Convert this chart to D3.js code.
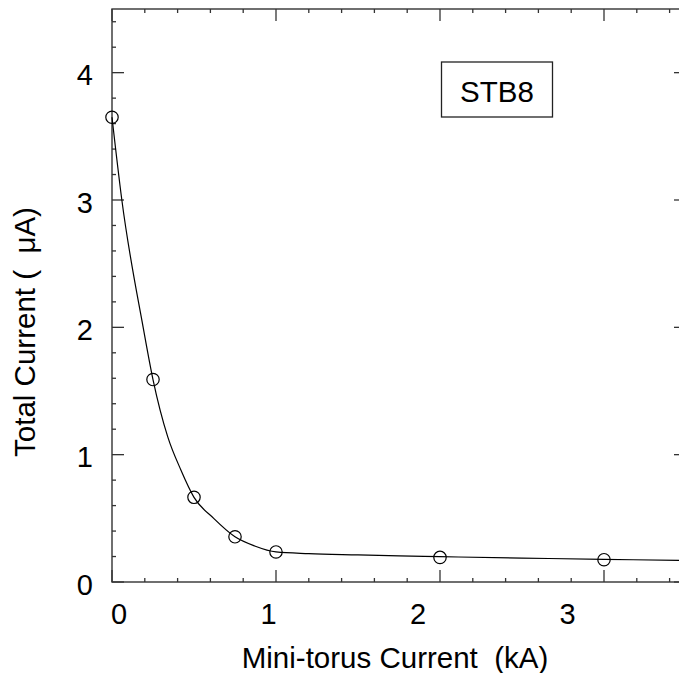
<!DOCTYPE html>
<html>
<head>
<meta charset="utf-8">
<script src="https://cdn.jsdelivr.net/npm/d3@7"></script>
<style>
  html, body { margin: 0; padding: 0; background: #fff; }
  svg { display: block; }
  text { font-family: "Liberation Sans", Arial, Helvetica, sans-serif; fill: #000; white-space: pre; }
</style>
</head>
<body>
<script>
// ---- data ----
const currentKA   = [0, 0.25, 0.5, 0.75, 1.0, 2.0, 3.0];
const totalUA     = [3.65, 1.59, 0.665, 0.355, 0.236, 0.193, 0.175];
// fitted curve
const fitX = [0, 0.06, 0.19, 0.25, 0.34, 0.42, 0.5, 0.62, 0.75, 0.87, 1.0, 1.2, 1.5, 1.75, 2.0, 2.5, 3.0, 3.5];
const fitY = [3.65, 3.0, 2.0, 1.59, 1.14, 0.88, 0.665, 0.50, 0.355, 0.283, 0.236, 0.223, 0.213, 0.205, 0.199, 0.188, 0.178, 0.169];
const xTickLabels = ["0", "1", "2", "3"];
const yTickLabels = ["0", "1", "2", "3", "4"];
const legendLabel = "STB8";
const xTitle = "Mini-torus Current  (kA)";
const yTitle = "Total Current (  \u03BCA)";

const W = 679, H = 673;
const svg = d3.select("body").append("svg").attr("width", W).attr("height", H);

const x = d3.scaleLinear().domain([0, 3.5]).range([112, 686]);
const y = d3.scaleLinear().domain([0, 4.5]).range([582, 9]);
// tick labels in the original are spaced slightly differently from the ticks
const xLab = d3.scaleLinear().domain([0, 3]).range([119, 567.5]);

const axisColor = "#333";
const g = svg.append("g");

// frame
g.append("rect")
  .attr("x", x(0)).attr("y", y(4.5))
  .attr("width", x(3.5) - x(0)).attr("height", y(0) - y(4.5))
  .attr("fill", "none").attr("stroke", axisColor).attr("stroke-width", 1.4);

const xMajor = d3.range(0, 4, 1);
const xMinor = d3.range(0, 3.5001, 0.2).filter(v => Math.abs(v - Math.round(v)) > 1e-6);
const yMajor = d3.range(0, 5, 1);
const yMinor = d3.range(0, 4.5001, 0.2).filter(v => Math.abs(v - Math.round(v)) > 1e-6);
const MAJ = 12, MIN = 4;

function tickLines(vals, len, orient) {
  vals.forEach(v => {
    let a;
    if (orient === "bottom") a = [x(v), y(0), x(v), y(0) - len];
    if (orient === "top") a = [x(v), y(4.5), x(v), y(4.5) + len];
    if (orient === "left") a = [x(0), y(v), x(0) + len, y(v)];
    if (orient === "right") a = [x(3.5), y(v), x(3.5) - len, y(v)];
    g.append("line").attr("x1", a[0]).attr("y1", a[1]).attr("x2", a[2]).attr("y2", a[3])
      .attr("stroke", axisColor).attr("stroke-width", 1.3);
  });
}
tickLines(xMajor, MAJ, "bottom"); tickLines(xMinor, MIN, "bottom");
tickLines(xMajor, MAJ, "top");    tickLines(xMinor, MIN, "top");
tickLines(yMajor, MAJ, "left");   tickLines(yMinor, MIN, "left");
tickLines(yMajor, MAJ, "right");  tickLines(yMinor, MIN, "right");

// tick labels
g.selectAll(".xl").data(xTickLabels).enter().append("text")
  .attr("x", (d, i) => xLab(xMajor[i])).attr("y", 624)
  .attr("text-anchor", "middle").attr("font-size", 29).text(d => d);
g.selectAll(".yl").data(yTickLabels).enter().append("text")
  .attr("x", 93).attr("y", (d, i) => y(yMajor[i]) + 12.5)
  .attr("text-anchor", "end").attr("font-size", 29).text(d => d);

// titles
svg.append("text").attr("x", 395).attr("y", 668).attr("text-anchor", "middle")
  .attr("font-size", 29.5).text(xTitle);
svg.append("text").attr("transform", "translate(35,332) rotate(-90)")
  .attr("text-anchor", "middle").attr("font-size", 29.5).text(yTitle);

// fitted curve
const line = d3.line().x(d => x(d[0])).y(d => y(d[1])).curve(d3.curveMonotoneX);
g.append("path").datum(fitX.map((v, i) => [v, fitY[i]]))
  .attr("d", line).attr("fill", "none").attr("stroke", "#000").attr("stroke-width", 1.2);

// data points
g.selectAll(".pt").data(currentKA.map((v, i) => [v, totalUA[i]])).enter().append("circle")
  .attr("cx", d => x(d[0])).attr("cy", d => y(d[1])).attr("r", 6.2)
  .attr("fill", "none").attr("stroke", "#000").attr("stroke-width", 1.2);

// legend box
const lg = svg.append("g");
lg.append("rect").attr("x", 441.5).attr("y", 62).attr("width", 111).attr("height", 55)
  .attr("fill", "#fff").attr("stroke", "#222").attr("stroke-width", 1.3);
lg.append("text").attr("x", 497).attr("y", 101.5).attr("text-anchor", "middle")
  .attr("font-size", 29.5).text(legendLabel);
</script>
</body>
</html>
